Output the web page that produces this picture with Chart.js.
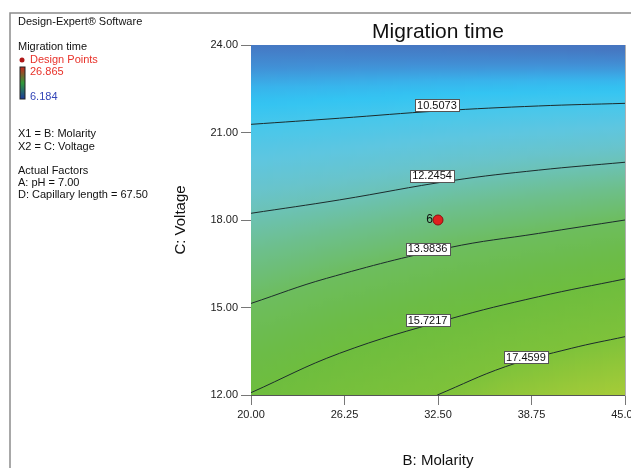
<!DOCTYPE html>
<html>
<head>
<meta charset="utf-8">
<script src="https://cdn.jsdelivr.net/npm/chart.js@4.4.1/dist/chart.umd.min.js"></script>
<style>
  html, body { margin: 0; padding: 0; background: #ffffff; }
  #wrap { width: 631px; height: 468px; position: relative; }
</style>
</head>
<body>
<div id="wrap"><canvas id="c" width="631" height="468"></canvas></div>
<script>
// ---------------- DATA ----------------
const chartTitle = 'Migration time';
const xTitle = 'B: Molarity';
const yTitle = 'C: Voltage';
const molarityTicks = [20.00, 26.25, 32.50, 38.75, 45.00];
const voltageTicks = [12.00, 15.00, 18.00, 21.00, 24.00];

const contourLevels = [10.5073, 12.2454, 13.9836, 15.7217, 17.4599];
const contour1B = [20.00, 25.92, 32.57, 39.22, 45.00];
const contour1C = [21.28, 21.49, 21.74, 21.91, 22.00];
const contour2B = [20.00, 25.92, 33.43, 39.22, 45.00];
const contour2C = [18.23, 18.69, 19.35, 19.71, 19.98];
const contour3B = [20.00, 25.05, 33.23, 39.22, 45.00];
const contour3C = [15.14, 16.00, 17.05, 17.54, 18.00];
const contour4B = [20.00, 25.92, 33.23, 39.22, 45.00];
const contour4C = [12.08, 13.43, 14.60, 15.37, 15.98];
const contour5B = [32.45, 37.00, 41.41, 45.00];
const contour5C = [12.00, 12.97, 13.60, 14.00];

// label box centres (data coordinates)
const contourLabelB = [32.43, 32.10, 31.80, 31.80, 38.38];
const contourLabelC = [21.94, 19.51, 17.02, 14.57, 13.29];

// design point
const designB = [32.5];
const designC = [18.0];
const designLabels = ['6'];

// legend panel texts
const responseMax = '26.865';
const responseMin = '6.184';
const panelLines1 = ['X1 = B: Molarity', 'X2 = C: Voltage'];
const panelLines2 = ['Actual Factors', 'A: pH = 7.00', 'D: Capillary length = 67.50'];

// colour map (response value -> colour)
const cmapValues = [8.9, 9.4, 9.8, 10.1, 10.5, 11.2, 11.8, 12.25, 13.0, 13.98, 15.0, 15.72, 17.46, 19.3];
const cmapColors = ['#4675c0', '#4190d6', '#38b4ec', '#33c4f2', '#45c7ec', '#5ec6e0', '#68c4cc',
                    '#6cc2b6', '#6dbf8c', '#6dbd5e', '#6cbc48', '#6ebd3e', '#7ec23a', '#a8cc38'];

// ---------------- helpers ----------------
const contourB = [contour1B, contour2B, contour3B, contour4B, contour5B];
const contourC = [contour1C, contour2C, contour3C, contour4C, contour5C];
const FONT = 'Arial, "Liberation Sans", Helvetica, sans-serif';

function hexToRgb(h) { const n = parseInt(h.slice(1), 16); return [(n >> 16) & 255, (n >> 8) & 255, n & 255]; }
const cmapRgb = cmapColors.map(hexToRgb);
function colorFor(v) {
  if (v <= cmapValues[0]) return 'rgb(' + cmapRgb[0].join(',') + ')';
  const n = cmapValues.length;
  if (v >= cmapValues[n - 1]) return 'rgb(' + cmapRgb[n - 1].join(',') + ')';
  for (let i = 0; i < n - 1; i++) {
    if (v >= cmapValues[i] && v <= cmapValues[i + 1]) {
      const t = (v - cmapValues[i]) / (cmapValues[i + 1] - cmapValues[i]);
      const a = cmapRgb[i], b = cmapRgb[i + 1];
      return 'rgb(' + [0, 1, 2].map(k => Math.round(a[k] + (b[k] - a[k]) * t)).join(',') + ')';
    }
  }
}
function contourCAt(k, B) {
  const bs = contourB[k], cs = contourC[k];
  if (B < bs[0] || B > bs[bs.length - 1]) return null;
  for (let i = 0; i < bs.length - 1; i++) {
    if (B >= bs[i] && B <= bs[i + 1]) {
      const t = (B - bs[i]) / (bs[i + 1] - bs[i]);
      return cs[i] + (cs[i + 1] - cs[i]) * t;
    }
  }
  return null;
}
function valueAtPixel(py, pts) {
  // pts sorted by pixel y ascending: [pixelY, level]
  if (pts.length < 2) return pts.length ? pts[0][1] : 12;
  if (py <= pts[0][0]) {
    const s = (pts[1][1] - pts[0][1]) / (pts[1][0] - pts[0][0]);
    return pts[0][1] + (py - pts[0][0]) * s;
  }
  const L = pts.length - 1;
  if (py >= pts[L][0]) {
    const s = (pts[L][1] - pts[L - 1][1]) / (pts[L][0] - pts[L - 1][0]);
    return pts[L][1] + (py - pts[L][0]) * s;
  }
  for (let i = 0; i < L; i++) {
    if (py >= pts[i][0] && py <= pts[i + 1][0]) {
      const t = (py - pts[i][0]) / (pts[i + 1][0] - pts[i][0]);
      return pts[i][1] + (pts[i + 1][1] - pts[i][1]) * t;
    }
  }
}

// ---------------- plugins ----------------
const surfacePlugin = {
  id: 'surface',
  beforeDatasetsDraw(chart) {
    const { ctx, chartArea: { left, right, top, bottom }, scales: { x, y } } = chart;
    ctx.save();
    const step = 2;
    for (let px = left; px < right; px += step) {
      const B = x.getValueForPixel(px + step / 2);
      const pts = [];
      for (let k = 0; k < contourLevels.length; k++) {
        const C = contourCAt(k, B);
        if (C !== null) pts.push([y.getPixelForValue(C), contourLevels[k]]);
      }
      pts.sort((a, b) => a[0] - b[0]);
      const g = ctx.createLinearGradient(0, top, 0, bottom);
      for (let py = top; py <= bottom + 0.01; py += 6) {
        g.addColorStop(Math.min(1, (py - top) / (bottom - top)), colorFor(valueAtPixel(py, pts)));
      }
      g.addColorStop(1, colorFor(valueAtPixel(bottom, pts)));
      ctx.fillStyle = g;
      ctx.fillRect(px, top, Math.min(step + 0.6, right - px), bottom - top);
    }
    ctx.restore();
  }
};

const annotPlugin = {
  id: 'annot',
  afterDatasetsDraw(chart) {
    const { ctx, scales: { x, y } } = chart;
    ctx.save();
    ctx.font = '11px ' + FONT;
    ctx.textAlign = 'center';
    ctx.textBaseline = 'middle';
    for (let i = 0; i < contourLevels.length; i++) {
      const cx = x.getPixelForValue(contourLabelB[i]);
      const cy = y.getPixelForValue(contourLabelC[i]);
      const txt = contourLevels[i].toFixed(4);
      const w = ctx.measureText(txt).width + 4;
      const h = 12;
      ctx.fillStyle = '#ffffff';
      ctx.fillRect(Math.round(cx - w / 2) + 0.5, Math.round(cy - h / 2) + 0.5, Math.round(w), h);
      ctx.strokeStyle = '#555555';
      ctx.lineWidth = 1;
      ctx.strokeRect(Math.round(cx - w / 2) + 0.5, Math.round(cy - h / 2) + 0.5, Math.round(w), h);
      ctx.fillStyle = '#111111';
      ctx.fillText(txt, cx, cy + 0.5);
    }
    ctx.font = '12px ' + FONT;
    ctx.textAlign = 'right';
    for (let i = 0; i < designB.length; i++) {
      ctx.fillStyle = '#111111';
      ctx.fillText(designLabels[i], x.getPixelForValue(designB[i]) - 5, y.getPixelForValue(designC[i]));
    }
    ctx.restore();
  }
};

const panelPlugin = {
  id: 'panel',
  beforeDraw(chart) {
    const { ctx } = chart;
    ctx.save();
    ctx.fillStyle = '#ffffff';
    ctx.fillRect(0, 0, chart.width, chart.height);
    ctx.strokeStyle = '#8c8c8c';
    ctx.lineWidth = 1.5;
    ctx.beginPath();
    ctx.moveTo(10, 468);
    ctx.lineTo(10, 13);
    ctx.lineTo(631, 13);
    ctx.stroke();
    ctx.restore();
  },
  afterDraw(chart) {
    const { ctx } = chart;
    ctx.save();
    ctx.font = '11px ' + FONT;
    ctx.textAlign = 'left';
    ctx.textBaseline = 'middle';
    ctx.fillStyle = '#111111';
    ctx.fillText('Design-Expert\u00ae Software', 18, 22);
    ctx.fillText(chartTitle, 18, 47);
    // design point marker in legend
    ctx.beginPath();
    ctx.arc(22, 60, 2.5, 0, Math.PI * 2);
    ctx.fillStyle = '#b01818';
    ctx.fill();
    ctx.fillStyle = '#e8322a';
    ctx.fillText('Design Points', 30, 60);
    // colour bar
    const g = ctx.createLinearGradient(0, 67, 0, 99);
    g.addColorStop(0, '#c8281e');
    g.addColorStop(0.5, '#2f9a3a');
    g.addColorStop(1, '#1c3a9c');
    ctx.fillStyle = g;
    ctx.fillRect(20, 67, 5, 32);
    ctx.strokeStyle = '#222222';
    ctx.lineWidth = 1;
    ctx.strokeRect(20, 67, 5, 32);
    ctx.fillStyle = '#e8322a';
    ctx.fillText(responseMax, 30, 72);
    ctx.fillStyle = '#3446b8';
    ctx.fillText(responseMin, 30, 97);
    ctx.fillStyle = '#111111';
    panelLines1.forEach((t, i) => ctx.fillText(t, 18, 134 + i * 12.5));
    panelLines2.forEach((t, i) => ctx.fillText(t, 18, 171 + i * 12));
    ctx.restore();
  }
};

// ---------------- chart ----------------
const datasets = [];
for (let k = 0; k < contourLevels.length; k++) {
  datasets.push({
    label: contourLevels[k].toFixed(4),
    data: contourB[k].map((b, i) => ({ x: b, y: contourC[k][i] })),
    showLine: true,
    borderColor: '#1c2c2c',
    borderWidth: 1,
    pointRadius: 0,
    tension: 0.4,
    fill: false
  });
}
datasets.push({
  label: 'Design Points',
  data: designB.map((b, i) => ({ x: b, y: designC[i] })),
  pointRadius: 5,
  pointBackgroundColor: '#e0201e',
  pointBorderColor: '#8a1010',
  pointBorderWidth: 1,
  showLine: false
});

const tickFont = { family: FONT, size: 11 };

new Chart(document.getElementById('c'), {
  type: 'scatter',
  data: { datasets },
  plugins: [panelPlugin, surfacePlugin, annotPlugin],
  options: {
    responsive: false,
    animation: false,
    layout: { padding: { left: 10, right: 4, top: 0, bottom: 0 } },
    plugins: { legend: { display: false }, tooltip: { enabled: false }, title: { display: false } },
    scales: {
      x: {
        type: 'linear', position: 'bottom', min: 20, max: 45,
        afterBuildTicks: s => { s.ticks = molarityTicks.map(v => ({ value: v })); },
        afterFit: s => { s.height = 73; s.paddingLeft = 0; s.paddingRight = 0; },
        ticks: { font: tickFont, color: '#222222', padding: 3, maxRotation: 0, callback: v => Number(v).toFixed(2) },
        grid: { drawOnChartArea: false, drawTicks: true, tickLength: 10, color: '#777777' },
        border: { display: true, color: '#555555', width: 1 },
        title: { display: true, text: xTitle, color: '#111111', font: { family: FONT, size: 15, lineHeight: 1 }, padding: { top: 0, bottom: 0 } }
      },
      xTop: {
        type: 'linear', position: 'top', min: 20, max: 45,
        afterFit: s => { s.height = 45; s.paddingLeft = 0; s.paddingRight = 0; },
        ticks: { display: false },
        grid: { display: false, drawOnChartArea: false, drawTicks: false },
        border: { display: true, color: '#9a9a9a', width: 1 },
        title: { display: true, text: chartTitle, color: '#111111', font: { family: FONT, size: 21, lineHeight: 1.2 }, padding: { top: 20, bottom: 0 } }
      },
      y: {
        type: 'linear', position: 'left', min: 12, max: 24,
        afterBuildTicks: s => { s.ticks = voltageTicks.map(v => ({ value: v })); },
        afterFit: s => { s.width = 241; s.paddingTop = 0; s.paddingBottom = 0; },
        ticks: { font: tickFont, color: '#222222', padding: 3, callback: v => Number(v).toFixed(2) },
        grid: { drawOnChartArea: false, drawTicks: true, tickLength: 10, color: '#777777' },
        border: { display: true, color: '#555555', width: 1 },
        title: { display: true, text: yTitle, color: '#111111', font: { family: FONT, size: 15, lineHeight: 1.2 }, padding: { top: 162, bottom: 0 } }
      },
      yRight: {
        type: 'linear', position: 'right', min: 12, max: 24,
        afterFit: s => { s.width = 0; s.paddingTop = 0; s.paddingBottom = 0; },
        ticks: { display: false },
        grid: { display: false, drawOnChartArea: false, drawTicks: false },
        border: { display: true, color: '#b0b0b0', width: 1 }
      }
    }
  }
});
</script>
</body>
</html>
